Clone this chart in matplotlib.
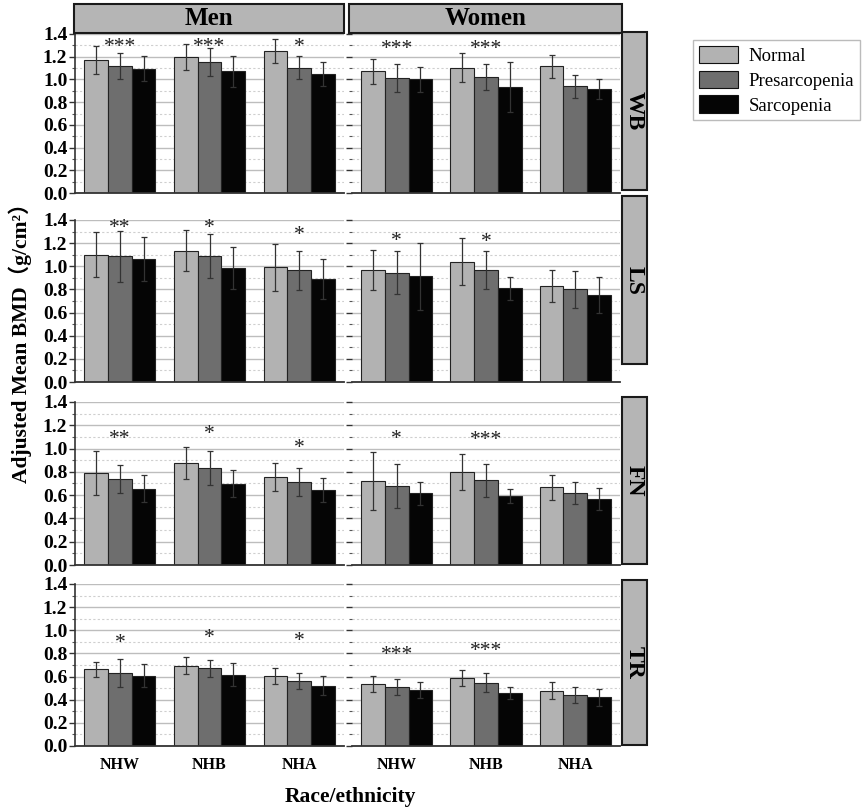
import matplotlib
matplotlib.use("Agg")
import matplotlib.pyplot as plt
from matplotlib.patches import Rectangle, Patch
from matplotlib.ticker import MultipleLocator
import numpy as np

plt.rcParams['font.family'] = ['Liberation Serif', 'Noto Sans CJK SC', 'DejaVu Sans']

groups = ['NHW', 'NHB', 'NHA']
sexes = ['Men', 'Women']
sites = ['WB', 'LS', 'FN', 'TR']
series = ['Normal', 'Presarcopenia', 'Sarcopenia']

# ---- values (mean) and error (half-width) per site / sex / series ----
wb_men_normal = [1.17, 1.20, 1.25]
wb_men_pre = [1.12, 1.155, 1.105]
wb_men_sarc = [1.095, 1.07, 1.05]
wb_men_normal_err = [0.125, 0.115, 0.105]
wb_men_pre_err = [0.115, 0.125, 0.097]
wb_men_sarc_err = [0.108, 0.134, 0.105]
wb_women_normal = [1.07, 1.105, 1.115]
wb_women_pre = [1.01, 1.02, 0.94]
wb_women_sarc = [1.00, 0.935, 0.915]
wb_women_normal_err = [0.11, 0.13, 0.10]
wb_women_pre_err = [0.125, 0.117, 0.10]
wb_women_sarc_err = [0.11, 0.22, 0.09]

ls_men_normal = [1.10, 1.135, 0.99]
ls_men_pre = [1.085, 1.085, 0.965]
ls_men_sarc = [1.06, 0.985, 0.89]
ls_men_normal_err = [0.195, 0.18, 0.20]
ls_men_pre_err = [0.22, 0.19, 0.17]
ls_men_sarc_err = [0.19, 0.18, 0.176]
ls_women_normal = [0.97, 1.04, 0.83]
ls_women_pre = [0.945, 0.97, 0.80]
ls_women_sarc = [0.915, 0.81, 0.755]
ls_women_normal_err = [0.175, 0.205, 0.14]
ls_women_pre_err = [0.185, 0.165, 0.162]
ls_women_sarc_err = [0.29, 0.10, 0.155]

fn_men_normal = [0.79, 0.875, 0.755]
fn_men_pre = [0.735, 0.833, 0.71]
fn_men_sarc = [0.655, 0.70, 0.642]
fn_men_normal_err = [0.19, 0.135, 0.12]
fn_men_pre_err = [0.12, 0.143, 0.12]
fn_men_sarc_err = [0.115, 0.12, 0.105]
fn_women_normal = [0.72, 0.80, 0.668]
fn_women_pre = [0.676, 0.728, 0.62]
fn_women_sarc = [0.616, 0.593, 0.567]
fn_women_normal_err = [0.25, 0.155, 0.106]
fn_women_pre_err = [0.19, 0.14, 0.093]
fn_women_sarc_err = [0.10, 0.057, 0.095]

tr_men_normal = [0.663, 0.695, 0.608]
tr_men_pre = [0.634, 0.671, 0.562]
tr_men_sarc = [0.608, 0.617, 0.522]
tr_men_normal_err = [0.066, 0.072, 0.07]
tr_men_pre_err = [0.122, 0.075, 0.073]
tr_men_sarc_err = [0.098, 0.10, 0.08]
tr_women_normal = [0.539, 0.585, 0.479]
tr_women_pre = [0.51, 0.548, 0.444]
tr_women_sarc = [0.485, 0.459, 0.421]
tr_women_normal_err = [0.07, 0.07, 0.075]
tr_women_pre_err = [0.07, 0.08, 0.07]
tr_women_sarc_err = [0.07, 0.05, 0.075]

# significance marks and their heights (data units, centre of mark)
wb_men_sig = ['***', '***', '*']
wb_men_sig_y = [1.33, 1.33, 1.33]
wb_women_sig = ['***', '***', '']
wb_women_sig_y = [1.31, 1.31, 0]
ls_men_sig = ['**', '*', '*']
ls_men_sig_y = [1.37, 1.37, 1.31]
ls_women_sig = ['*', '*', '']
ls_women_sig_y = [1.26, 1.25, 0]
fn_men_sig = ['**', '*', '*']
fn_men_sig_y = [1.12, 1.17, 1.045]
fn_women_sig = ['*', '***', '']
fn_women_sig_y = [1.12, 1.11, 0]
tr_men_sig = ['*', '*', '*']
tr_men_sig_y = [0.93, 0.975, 0.945]
tr_women_sig = ['***', '***', '']
tr_women_sig_y = [0.83, 0.86, 0]

data = {
    ('WB', 'Men'): ([wb_men_normal, wb_men_pre, wb_men_sarc], [wb_men_normal_err, wb_men_pre_err, wb_men_sarc_err], wb_men_sig, wb_men_sig_y),
    ('WB', 'Women'): ([wb_women_normal, wb_women_pre, wb_women_sarc], [wb_women_normal_err, wb_women_pre_err, wb_women_sarc_err], wb_women_sig, wb_women_sig_y),
    ('LS', 'Men'): ([ls_men_normal, ls_men_pre, ls_men_sarc], [ls_men_normal_err, ls_men_pre_err, ls_men_sarc_err], ls_men_sig, ls_men_sig_y),
    ('LS', 'Women'): ([ls_women_normal, ls_women_pre, ls_women_sarc], [ls_women_normal_err, ls_women_pre_err, ls_women_sarc_err], ls_women_sig, ls_women_sig_y),
    ('FN', 'Men'): ([fn_men_normal, fn_men_pre, fn_men_sarc], [fn_men_normal_err, fn_men_pre_err, fn_men_sarc_err], fn_men_sig, fn_men_sig_y),
    ('FN', 'Women'): ([fn_women_normal, fn_women_pre, fn_women_sarc], [fn_women_normal_err, fn_women_pre_err, fn_women_sarc_err], fn_women_sig, fn_women_sig_y),
    ('TR', 'Men'): ([tr_men_normal, tr_men_pre, tr_men_sarc], [tr_men_normal_err, tr_men_pre_err, tr_men_sarc_err], tr_men_sig, tr_men_sig_y),
    ('TR', 'Women'): ([tr_women_normal, tr_women_pre, tr_women_sarc], [tr_women_normal_err, tr_women_pre_err, tr_women_sarc_err], tr_women_sig, tr_women_sig_y),
}

colors = ['#b2b2b2', '#6e6e6e', '#050505']

W, H = 866, 810
fig = plt.figure(figsize=(W / 100, H / 100), dpi=100)

def fx(px):
    return px / W

def fy(py):
    return 1 - py / H

col_x = [(75, 344), (352, 620)]
row_y = [(34, 193), (220, 382), (402, 565), (584, 746)]
strip_right = [(32, 190), (196, 364), (397, 564), (580, 745)]

x = np.arange(len(groups))
bw = 0.265

for r, site in enumerate(sites):
    for c, sex in enumerate(sexes):
        x0, x1 = col_x[c]
        y0, y1 = row_y[r]
        ax = fig.add_axes([fx(x0), fy(y1), fx(x1) - fx(x0), fy(y0) - fy(y1)])
        vals, errs, sig, sig_y = data[(site, sex)]
        for k in range(3):
            ax.bar(x + (k - 1) * bw, vals[k], bw, color=colors[k], edgecolor='#222222',
                   linewidth=0.8, zorder=2)
            ax.errorbar(x + (k - 1) * bw, vals[k], yerr=errs[k], fmt='none',
                        ecolor='#333333', elinewidth=0.9, capsize=2, capthick=0.9, zorder=3)
        for g in range(3):
            if sig[g]:
                ax.annotate(sig[g], (x[g], sig_y[g]), xytext=(0, -7), textcoords='offset points',
                            ha='center', va='baseline', fontsize=15.5, color='#222222',
                            annotation_clip=False, zorder=4)
        ax.set_xlim(-0.5, 2.5)
        ax.set_ylim(0, 1.4)
        ax.yaxis.set_major_locator(MultipleLocator(0.2))
        ax.yaxis.set_minor_locator(MultipleLocator(0.1))
        ax.grid(axis='y', which='major', color='#bdbdbd', linewidth=1.0, zorder=0)
        ax.grid(axis='y', which='minor', color='#cfcfcf', linewidth=0.8, linestyle=(0, (2, 2)), zorder=0)
        ax.set_axisbelow(True)
        for s in ['top', 'right']:
            ax.spines[s].set_visible(False)
        ax.spines['bottom'].set_color('#333333')
        ax.spines['bottom'].set_linewidth(1.3)
        ax.set_xticks(x)
        ax.tick_params(axis='x', length=0)
        if r == len(sites) - 1:
            ax.set_xticklabels(groups, fontsize=11.5, fontweight='bold')
            ax.tick_params(axis='x', pad=8)
        else:
            ax.set_xticklabels([])
        ax.tick_params(axis='y', which='major', direction='out', length=4, width=1, color='#333333')
        ax.tick_params(axis='y', which='minor', direction='out', length=2, width=0.8, color='#555555')
        if c == 0:
            ax.spines['left'].set_color('#333333')
            ax.spines['left'].set_linewidth(1.2)
            ax.set_yticklabels([f'{v:.1f}' for v in ax.get_yticks()], fontsize=14, fontweight='bold')
            ax.tick_params(axis='y', pad=1.5)
        else:
            ax.spines['left'].set_visible(False)
            ax.set_yticklabels([])
        ax.patch.set_alpha(0)

# top strips
top_strip = [(74, 344), (349, 622)]
for c, sex in enumerate(sexes):
    a, b = top_strip[c]
    fig.patches.append(Rectangle((fx(a), fy(33)), fx(b) - fx(a), fy(4) - fy(33),
                                 transform=fig.transFigure, facecolor='#b5b5b5',
                                 edgecolor='#1a1a1a', linewidth=1.5))
    fig.text((fx(a) + fx(b)) / 2, (fy(33) + fy(4)) / 2, sex, ha='center', va='center',
             fontsize=18, fontweight='bold')

# right strips
for r, site in enumerate(sites):
    a, b = strip_right[r]
    fig.patches.append(Rectangle((fx(622), fy(b)), fx(647) - fx(622), fy(a) - fy(b),
                                 transform=fig.transFigure, facecolor='#b5b5b5',
                                 edgecolor='#1a1a1a', linewidth=1.5))
    fig.text((fx(622) + fx(647)) / 2, (fy(a) + fy(b)) / 2, site, ha='center', va='center',
             rotation=-90, fontsize=17, fontweight='bold')

# legend
handles = [Patch(facecolor=colors[k], edgecolor='#111111', linewidth=0.8) for k in range(3)]
fig.legend(handles, series, loc='upper left', bbox_to_anchor=(fx(684), fy(31)),
           fontsize=13.5, frameon=True, edgecolor='#aaaaaa', fancybox=False,
           handlelength=2.1, handleheight=1.05, labelspacing=0.3, borderpad=0.3,
           handletextpad=0.55)

fig.text(fx(20), fy(338), 'Adjusted Mean BMD（g/cm²）', rotation=90, ha='center', va='center',
         fontsize=15.5, fontweight='bold')
fig.text(fx(350), fy(797), 'Race/ethnicity', ha='center', va='center', fontsize=15.5,
         fontweight='bold')

fig.savefig('out.png', dpi=100, facecolor='white')
